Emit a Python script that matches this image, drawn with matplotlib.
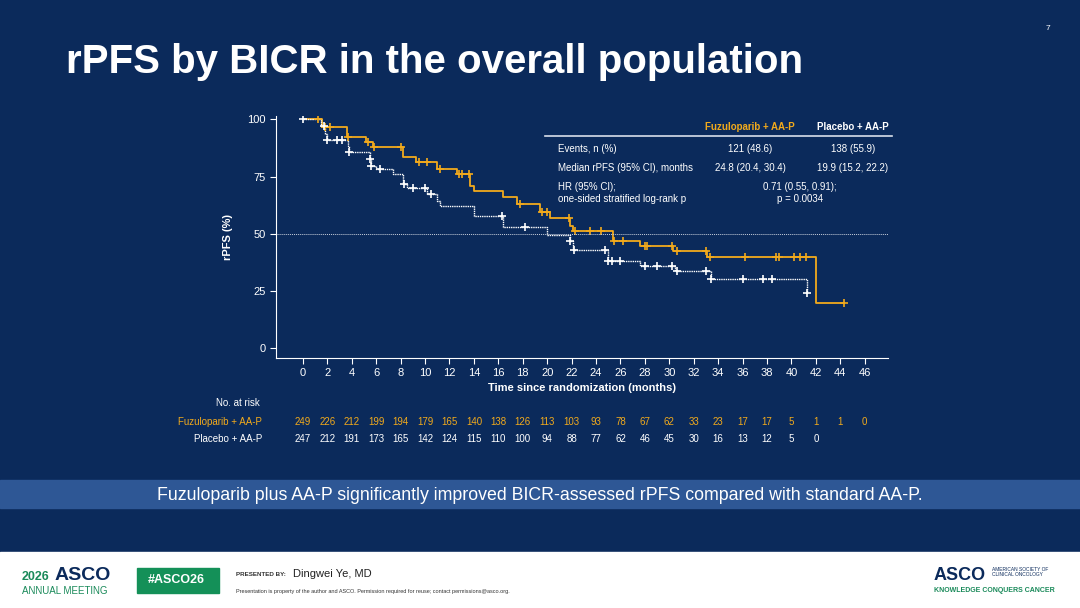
import matplotlib.pyplot as plt
import matplotlib.patches as mpatches

BG = '#0b2a5b'
ORANGE = '#f2aa1c'
WHITE = '#ffffff'

# Kaplan-Meier step points (time in months, rPFS %)
fuzu_t = [0, 1.6, 3.6, 5.2, 5.7, 8.2, 9.3, 11.0, 12.6, 13.7, 14.0, 16.4, 17.5, 19.4, 20.2, 21.9, 22.1,
          25.4, 27.6, 30.3, 33.1, 42.0, 44.3]
fuzu_s = [100, 96.9, 92.5, 90.3, 88.0, 83.7, 81.5, 78.4, 76.0, 70.9, 68.7, 66.0, 63.0, 59.5, 57.0, 53.3, 51.0,
          46.7, 44.5, 42.3, 39.6, 19.8, 19.8]
fuzu_cens = [1.2, 1.8, 2.2, 3.7, 5.3, 5.8, 8.0, 9.5, 10.2, 11.2, 12.8, 13.0, 13.6, 17.8, 19.6, 20.0, 21.8,
             22.3, 23.5, 24.4, 25.5, 26.2, 28.0, 28.2, 30.2, 30.6, 33.0, 33.3, 36.2, 38.7, 39.0, 40.2, 40.7, 41.2, 44.3]

plac_t = [0, 1.5, 1.8, 2.0, 3.7, 3.8, 5.5, 5.6, 6.0, 7.4, 8.2, 8.5, 10.2, 11.0, 11.2, 14.0, 16.4, 20.0, 21.9,
          22.1, 25.0, 27.6, 30.5, 33.4, 41.3]
plac_s = [100, 97.0, 93.8, 91.0, 88.5, 85.9, 82.8, 79.7, 78.4, 76.0, 71.8, 70.0, 67.4, 64.3, 62.0, 57.7, 52.9,
          49.3, 46.7, 43.0, 38.0, 35.7, 33.5, 30.0, 24.2]
plac_cens = [0, 1.7, 2.0, 2.8, 3.2, 3.8, 5.5, 5.6, 6.3, 8.3, 9.0, 10.0, 10.5, 16.3, 18.2, 21.9, 22.2, 24.7,
             25.0, 25.3, 26.0, 28.0, 29.0, 30.2, 30.6, 33.0, 33.4, 36.0, 37.7, 38.4, 41.3]

risk_times = list(range(0, 48, 2))
fuzu_risk = [249, 226, 212, 199, 194, 179, 165, 140, 138, 126, 113, 103, 93, 78, 67, 62, 33, 23, 17, 17, 5, 1, 1, 0]
plac_risk = [247, 212, 191, 173, 165, 142, 124, 115, 110, 100, 94, 88, 77, 62, 46, 45, 30, 16, 13, 12, 5, 0]


def surv_at(t, ts, ss):
    v = ss[0]
    for a, b in zip(ts, ss):
        if a <= t:
            v = b
    return v


plt.rcParams['font.family'] = ['Liberation Sans', 'DejaVu Sans']
fig = plt.figure(figsize=(10.8, 6.08), dpi=100)
fig.patch.set_facecolor(BG)

ax = fig.add_axes([276 / 1080, 1 - 358 / 608, (888 - 276) / 1080, (358 - 116) / 608])
ax.set_facecolor(BG)
ax.step(fuzu_t, fuzu_s, where='post', color=ORANGE, lw=1.3)
ax.step(plac_t, plac_s, where='post', color=WHITE, lw=1.0, linestyle=(0, (1, 0.6)))
ax.plot(fuzu_cens, [surv_at(t, fuzu_t, fuzu_s) for t in fuzu_cens], '+', color=ORANGE, ms=6, mew=1.2)
ax.plot(plac_cens, [surv_at(t, plac_t, plac_s) for t in plac_cens], '+', color=WHITE, ms=6, mew=1.2)
ax.axhline(50, color='#c8cfdc', lw=0.7, linestyle=(0, (1, 1)))

ax.set_xlim(-2.2, 47.9)
ax.set_ylim(-4.4, 101.5)
ax.set_xticks(range(0, 48, 2))
ax.set_yticks([0, 25, 50, 75, 100])
for s in ['top', 'right']:
    ax.spines[s].set_visible(False)
for s in ['left', 'bottom']:
    ax.spines[s].set_color(WHITE)
ax.tick_params(colors=WHITE, labelsize=8, length=4)
ax.set_xlabel('Time since randomization (months)', color=WHITE, fontsize=8, fontweight='bold', labelpad=3)
ax.set_ylabel('rPFS (%)', color=WHITE, fontsize=8, fontweight='bold', labelpad=10)

# table in the plot
tx = lambda px: px / 1080
ty = lambda py: 1 - py / 608
fig.add_artist(plt.Line2D([tx(545), tx(892)], [ty(136), ty(136)], color='#d9dfea', lw=1.2))
fig.text(tx(750), ty(127), 'Fuzuloparib + AA-P', color=ORANGE, fontsize=7, fontweight='bold', ha='center', va='center')
fig.text(tx(853), ty(127), 'Placebo + AA-P', color=WHITE, fontsize=7, fontweight='bold', ha='center', va='center')
rows = [(149, 'Events, n (%)', '121 (48.6)', '138 (55.9)'),
        (168, 'Median rPFS (95% CI), months', '24.8 (20.4, 30.4)', '19.9 (15.2, 22.2)')]
for y, lab, a, b in rows:
    fig.text(tx(558), ty(y), lab, color=WHITE, fontsize=7, va='center')
    fig.text(tx(750), ty(y), a, color=WHITE, fontsize=7, ha='center', va='center')
    fig.text(tx(853), ty(y), b, color=WHITE, fontsize=7, ha='center', va='center')
fig.text(tx(558), ty(193), 'HR (95% CI);\none-sided stratified log-rank p', color=WHITE, fontsize=7,
         va='center', linespacing=1.2)
fig.text(tx(800), ty(193), '0.71 (0.55, 0.91);\np = 0.0034', color=WHITE, fontsize=7, ha='center',
         va='center', linespacing=1.2)

# numbers at risk
fig.text(tx(260), ty(403), 'No. at risk', color=WHITE, fontsize=7, ha='right', va='center')
fig.text(tx(262), ty(422), 'Fuzuloparib + AA-P', color=ORANGE, fontsize=7, ha='right', va='center')
fig.text(tx(262), ty(439), 'Placebo + AA-P', color=WHITE, fontsize=7, ha='right', va='center')
for t, n in zip(risk_times, fuzu_risk):
    ax.text(t, 1 - (422 - 116) / (358 - 116), str(n), transform=ax.get_xaxis_transform(), color=ORANGE,
            fontsize=7, ha='center', va='center')
for t, n in zip(risk_times, plac_risk):
    ax.text(t, 1 - (439 - 116) / (358 - 116), str(n), transform=ax.get_xaxis_transform(), color=WHITE,
            fontsize=7, ha='center', va='center')

# title and slide furniture
fig.text(tx(66), ty(62), 'rPFS by BICR in the overall population', color=WHITE, fontsize=29,
         fontweight='bold', va='center')
fig.text(tx(1048), ty(28), '7', color=WHITE, fontsize=6, ha='center', va='center')
fig.add_artist(mpatches.Rectangle((0, ty(508)), 1, (508 - 480) / 608, transform=fig.transFigure,
                                  color='#2e5795', zorder=0))
fig.text(0.5, ty(495), 'Fuzuloparib plus AA-P significantly improved BICR-assessed rPFS compared with standard AA-P.',
         color=WHITE, fontsize=12.8, ha='center', va='center')
fig.add_artist(mpatches.Rectangle((0, 0), 1, (608 - 552) / 608, transform=fig.transFigure,
                                  color='white', zorder=0))
fig.text(tx(22), ty(577), '2026', color='#1a8a5a', fontsize=9, fontweight='bold', va='center')
fig.text(tx(55), ty(576), 'ASCO', color='#0b2a5b', fontsize=14, fontweight='bold', va='center')
fig.text(tx(22), ty(591), 'ANNUAL MEETING', color='#1a8a5a', fontsize=7, va='center')
fig.add_artist(mpatches.Rectangle((tx(137), ty(593)), (187 - 137) / 1080 + 0.03, 25 / 608,
                                  transform=fig.transFigure, color='#149058'))
fig.text(tx(176), ty(580), '#ASCO26', color='white', fontsize=9, fontweight='bold', ha='center', va='center')
fig.text(tx(236), ty(575), 'PRESENTED BY:', color='#333333', fontsize=4.5, fontweight='bold', va='center')
fig.text(tx(293), ty(574), 'Dingwei Ye, MD', color='#222222', fontsize=8, va='center')
fig.text(tx(236), ty(591), 'Presentation is property of the author and ASCO. Permission required for reuse; contact permissions@asco.org.',
         color='#333333', fontsize=4, va='center')
fig.text(tx(934), ty(576), 'ASCO', color='#0b2a5b', fontsize=13, fontweight='bold', va='center')
fig.text(tx(992), ty(572), 'AMERICAN SOCIETY OF\nCLINICAL ONCOLOGY', color='#0b2a5b', fontsize=3.5,
         va='center', linespacing=1.1)
fig.text(tx(934), ty(591), 'KNOWLEDGE CONQUERS CANCER', color='#1a8a5a', fontsize=5, fontweight='bold', va='center')

fig.savefig('out.png', dpi=100, facecolor=BG)
